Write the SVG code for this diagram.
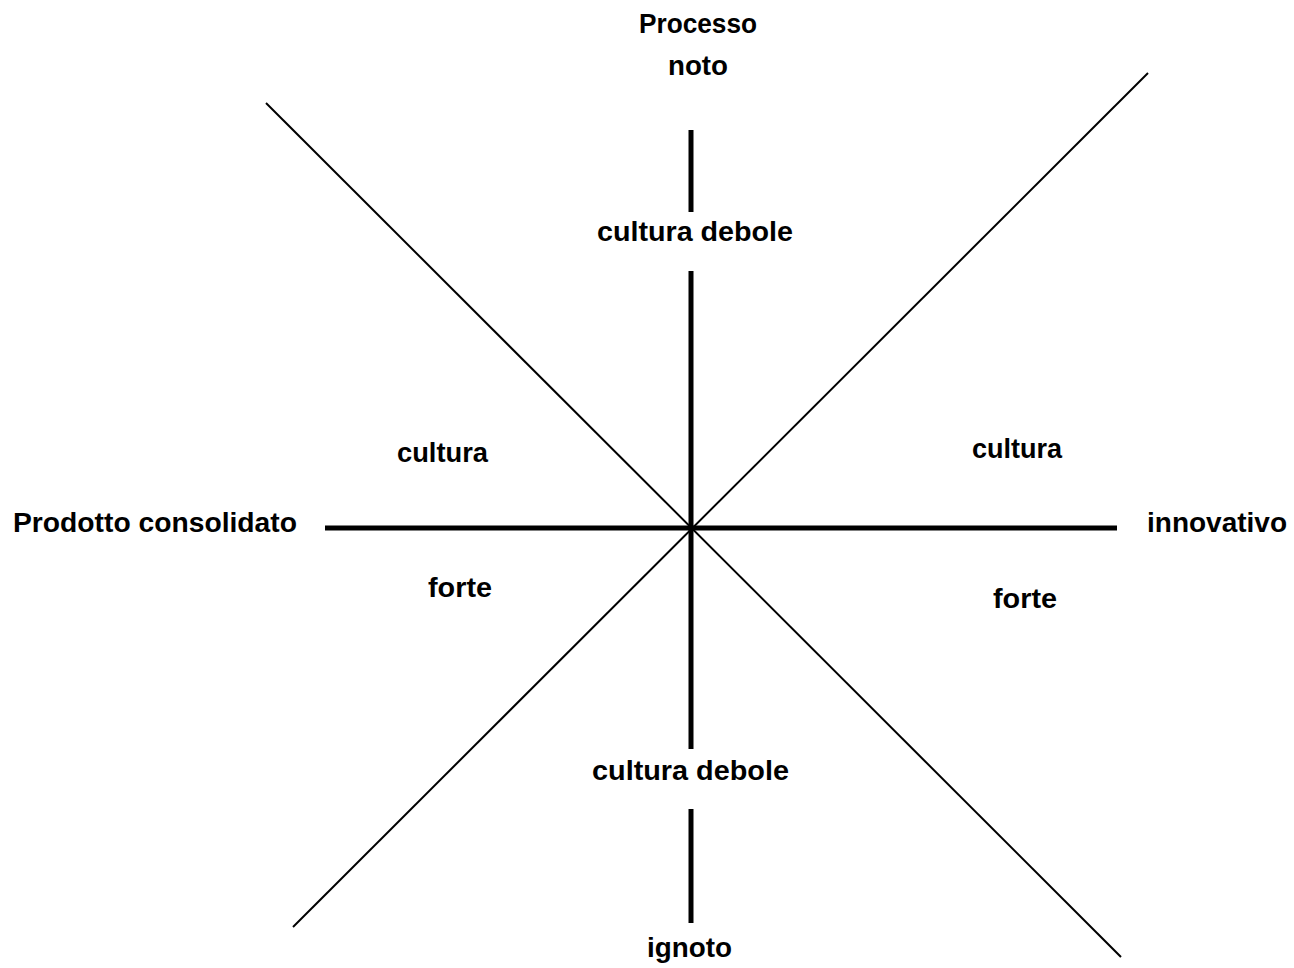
<svg xmlns="http://www.w3.org/2000/svg" width="1294" height="968" viewBox="0 0 1294 968">
  <style>
    .lbl { font-family: "Liberation Sans", Arial, sans-serif; font-weight: bold; font-size: 27px; fill: #000; }
    .axis { stroke: #000; stroke-width: 5; fill: none; }
    .diag { stroke: #000; stroke-width: 2; fill: none; }
  </style>
  <rect width="1294" height="968" fill="#fff"/>
  <g id="connectors">
    <line class="diag" x1="266" y1="103" x2="1121" y2="957"/>
    <line class="diag" x1="1148" y1="73" x2="293" y2="927"/>
    <line class="axis" x1="325" y1="528" x2="1117" y2="528"/>
    <line class="axis" x1="691" y1="130" x2="691" y2="212"/>
    <line class="axis" x1="691" y1="271" x2="691" y2="749"/>
    <line class="axis" x1="691" y1="809" x2="691" y2="923"/>
  </g>
  <g id="processo-noto">
    <text class="lbl" x="639" y="33" textLength="118" lengthAdjust="spacingAndGlyphs">Processo</text>
    <text class="lbl" x="668" y="75" textLength="60" lengthAdjust="spacingAndGlyphs">noto</text>
  </g>
  <g id="cultura-debole-top">
    <text class="lbl" x="597" y="241" textLength="196" lengthAdjust="spacingAndGlyphs">cultura debole</text>
  </g>
  <g id="cultura-debole-bottom">
    <text class="lbl" x="592" y="780" textLength="197" lengthAdjust="spacingAndGlyphs">cultura debole</text>
  </g>
  <g id="ignoto">
    <text class="lbl" x="647" y="957" textLength="85" lengthAdjust="spacingAndGlyphs">ignoto</text>
  </g>
  <g id="prodotto-consolidato">
    <text class="lbl" x="13" y="532" textLength="284" lengthAdjust="spacingAndGlyphs">Prodotto consolidato</text>
  </g>
  <g id="innovativo">
    <text class="lbl" x="1147" y="532" textLength="140" lengthAdjust="spacingAndGlyphs">innovativo</text>
  </g>
  <g id="cultura-left">
    <text class="lbl" x="397" y="462" textLength="91" lengthAdjust="spacingAndGlyphs">cultura</text>
  </g>
  <g id="forte-left">
    <text class="lbl" x="428" y="597" textLength="64" lengthAdjust="spacingAndGlyphs">forte</text>
  </g>
  <g id="cultura-right">
    <text class="lbl" x="972" y="458" textLength="90" lengthAdjust="spacingAndGlyphs">cultura</text>
  </g>
  <g id="forte-right">
    <text class="lbl" x="993" y="608" textLength="64" lengthAdjust="spacingAndGlyphs">forte</text>
  </g>
</svg>
